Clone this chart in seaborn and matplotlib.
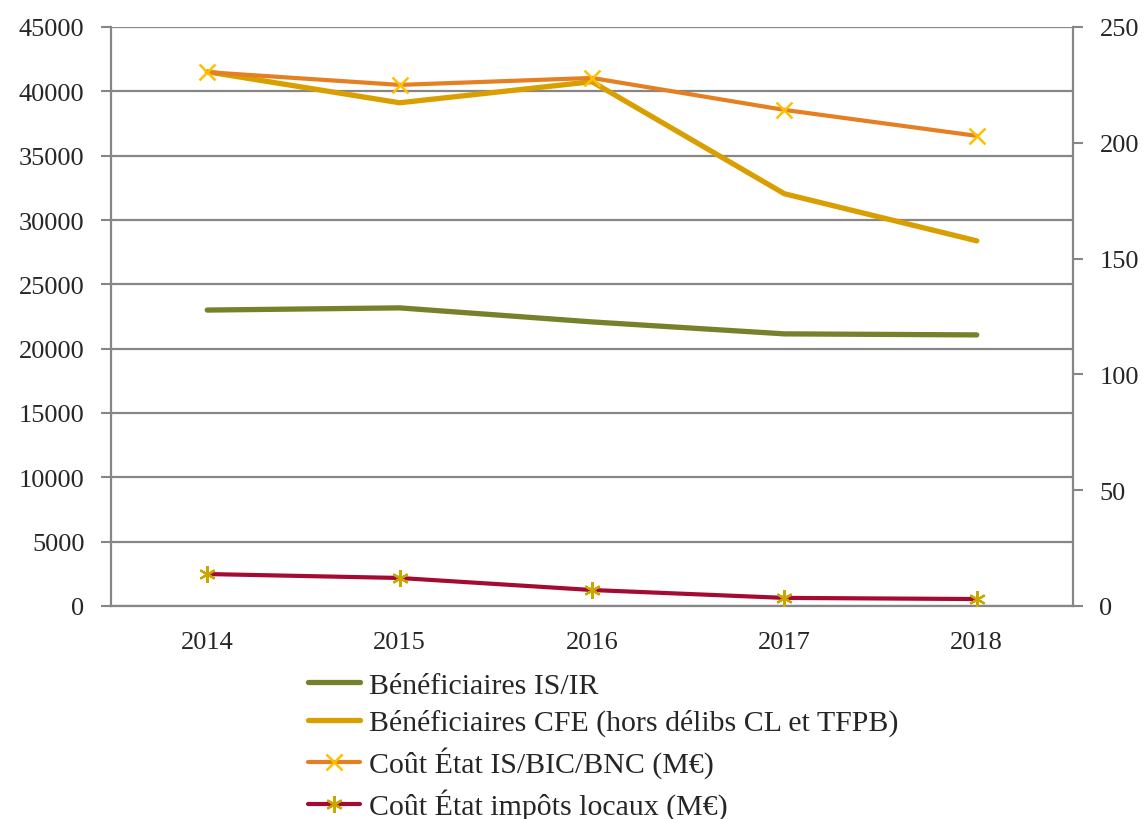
import matplotlib
matplotlib.use("Agg")
import matplotlib.pyplot as plt
import seaborn as sns
import pandas as pd

# data
years = ["2014", "2015", "2016", "2017", "2018"]
benef_is_ir = [23000, 23170, 22080, 21150, 21070]
benef_cfe = [41520, 39110, 40750, 32040, 28380]
cout_is_bic = [230.5, 225, 228, 214.2, 203]
cout_locaux = [13.8, 12.1, 6.9, 3.5, 3.0]

labels = ["Bénéficiaires IS/IR",
          "Bénéficiaires CFE (hors délibs CL et TFPB)",
          "Coût État IS/BIC/BNC (M€)",
          "Coût État impôts locaux (M€)"]

sns.set_style("white")
plt.rcParams['font.family'] = ['Liberation Serif', 'DejaVu Serif']

grey = "#868686"
c_is = "#77812B"
c_cfe = "#D99F00"
c_cout = "#E47F22"
c_loc = "#A50A33"

left = pd.DataFrame({"annee": years, "is_ir": benef_is_ir, "cfe": benef_cfe})
right = pd.DataFrame({"annee": years, "cout": cout_is_bic, "loc": cout_locaux})

fig = plt.figure(figsize=(11.45, 8.2), dpi=100)
ax = fig.add_axes([111/1145, 1-607/820, 962/1145, 579/820])
ax2 = ax.twinx()

sns.lineplot(data=left, x="annee", y="is_ir", ax=ax, color=c_is, lw=3.8, label=labels[0], legend=False)
sns.lineplot(data=left, x="annee", y="cfe", ax=ax, color=c_cfe, lw=3.8, label=labels[1], legend=False)
sns.lineplot(data=right, x="annee", y="cout", ax=ax2, color=c_cout, lw=3.0, marker="x", ms=11,
             mec="#FFC000", mew=1.8, label=labels[2], legend=False)
sns.lineplot(data=right, x="annee", y="loc", ax=ax2, color=c_loc, lw=3.0, marker=(6, 2, 0), ms=12,
             mec="#C8A800", mew=1.6, label=labels[3], legend=False)

ax.set_ylim(0, 45000)
ax.set_yticks(range(0, 45001, 5000))
ax2.set_ylim(0, 250)
ax2.set_yticks(range(0, 251, 50))
ax.set_xlim(-0.5, 4.5)

# tick marks between categories, labels centred
ax.set_xticks([-0.5, 0.5, 1.5, 2.5, 3.5, 4.5])
ax.set_xticklabels([])
ax.set_xticks(range(len(years)), minor=True)
ax.tick_params(axis="x", which="major", length=9, width=1.5, color=grey, direction="out")
ax.set_xticklabels(years, minor=True)
ax.tick_params(axis="x", which="minor", length=0, pad=18, labelsize=19)

ax.grid(axis="y", color=grey, lw=1.6)
ax.set_axisbelow(True)
ax.tick_params(axis="y", length=7, width=1.5, color=grey, direction="out", labelsize=19, pad=12)
ax2.tick_params(axis="y", length=7, width=1.5, color=grey, direction="out", labelsize=19, pad=12)
ax.set_xlabel("")
ax.set_ylabel("")
ax2.set_ylabel("")

for a in (ax, ax2):
    a.spines["top"].set_visible(False)
    for s in ("left", "right", "bottom"):
        a.spines[s].set_color(grey)
        a.spines[s].set_linewidth(1.6)
ax.spines["right"].set_visible(False)
ax2.spines["left"].set_visible(False)
ax2.spines["bottom"].set_visible(False)

h1, l1 = ax.get_legend_handles_labels()
h2, l2 = ax2.get_legend_handles_labels()
fig.legend(h1 + h2, l1 + l2, loc="upper left", bbox_to_anchor=(308/1145, 1-673/820),
           frameon=False, fontsize=21.5, handlelength=1.75, handletextpad=0.28,
           labelspacing=0.34, borderaxespad=0, borderpad=0)

fig.savefig("out.png", dpi=100)
